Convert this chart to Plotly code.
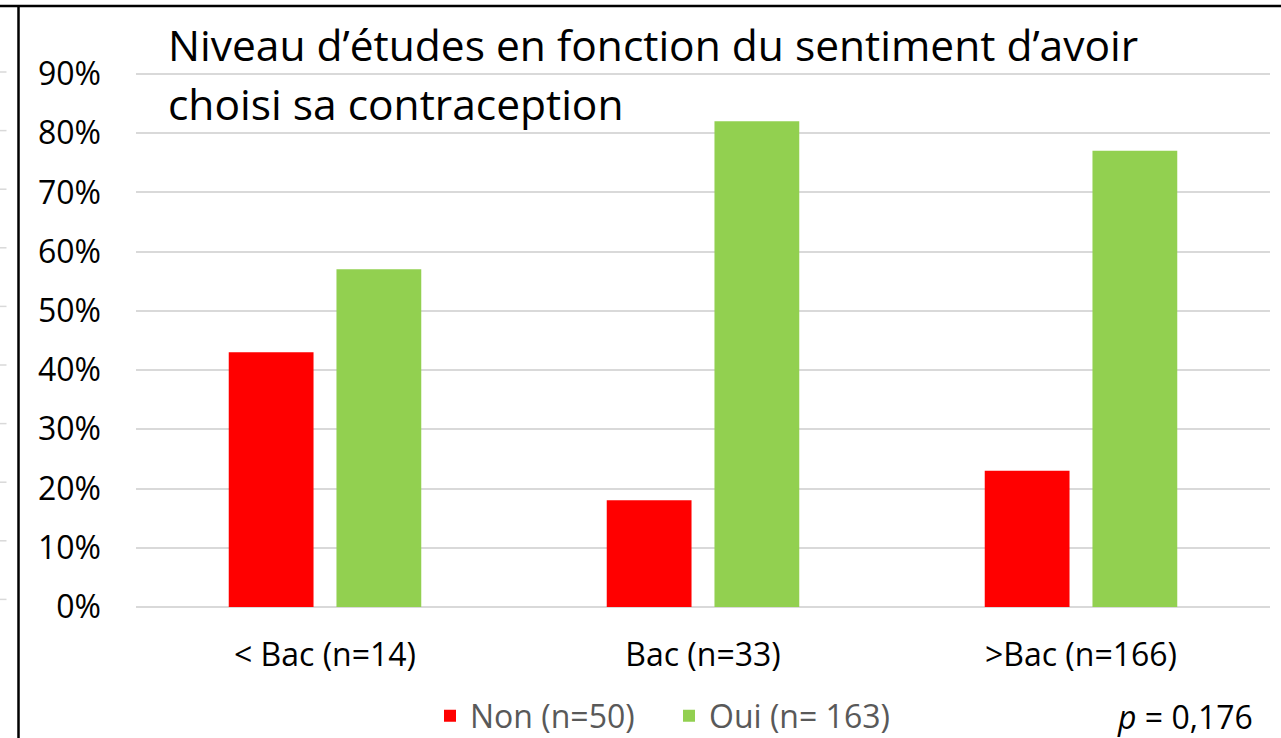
import plotly.graph_objects as go

categories = ["< Bac (n=14)", "Bac (n=33)", ">Bac (n=166)"]
non_values = [0.43, 0.18, 0.23]
oui_values = [0.57, 0.82, 0.77]
series_names = ["Non (n=50)", "Oui (n= 163)"]
y_ticks = [0.0, 0.1, 0.2, 0.3, 0.4, 0.5, 0.6, 0.7, 0.8, 0.9]
title_lines = ["Niveau d’études en fonction du sentiment d’avoir", "choisi sa contraception"]
p_text = "<i>p</i> = 0,176"

FONT = "Open Sans"
W, H = 1281, 738
L, R, T, B = 136, 11, 62, 131
PW = W - L - R
PH = H - T - B


def px(x):
    return (x - L) / PW


def py(y):
    return (H - B - y) / PH


fig = go.Figure()
fig.add_trace(go.Bar(x=categories, y=non_values, name=series_names[0],
                     marker=dict(color="#FF0000", line=dict(width=0))))
fig.add_trace(go.Bar(x=categories, y=oui_values, name=series_names[1],
                     marker=dict(color="#92D050", line=dict(width=0))))

shapes = []
# frame lines (top and left border of the screenshot)
shapes.append(dict(type="line", xref="paper", yref="paper", x0=px(0), x1=px(W), y0=py(6), y1=py(6),
                   line=dict(color="#000000", width=2.5)))
shapes.append(dict(type="line", xref="paper", yref="paper", x0=px(18.5), x1=px(18.5), y0=py(6), y1=py(H + 5),
                   line=dict(color="#000000", width=2.5)))
# gridline fragments of neighbouring chart at far left
for k in range(10):
    yy = 72 + 58.6 * k
    shapes.append(dict(type="line", xref="paper", yref="paper", x0=px(-2), x1=px(6.5), y0=py(yy), y1=py(yy),
                       line=dict(color="#d9d9d9", width=1.5)))

annotations = [
    dict(text=title_lines[0], xref="paper", yref="paper", x=px(166), y=py(44), xanchor="left", yanchor="middle",
         showarrow=False, font=dict(family=FONT, size=42.5, color="#000000")),
    dict(text=title_lines[1], xref="paper", yref="paper", x=px(166), y=py(103.5), xanchor="left", yanchor="middle",
         showarrow=False, font=dict(family=FONT, size=42.5, color="#000000")),
    dict(text=p_text, xref="paper", yref="paper", x=px(1255), y=py(716), xanchor="right", yanchor="middle",
         showarrow=False, font=dict(family=FONT, size=32, color="#000000")),
]

fig.update_layout(
    width=W, height=H,
    margin=dict(l=L, r=R, t=T, b=B, pad=0),
    paper_bgcolor="white", plot_bgcolor="white",
    font=dict(family=FONT, size=32, color="#000000"),
    barmode="group", bargap=0.43, bargroupgap=0.213,
    showlegend=True,
    legend=dict(orientation="h", x=px(430), xanchor="left",
                yref="container", y=(H - 716) / H, yanchor="middle",
                entrywidth=194, entrywidthmode="pixels",
                font=dict(family=FONT, size=32, color="#595959"), bgcolor="rgba(0,0,0,0)"),
    shapes=shapes,
    annotations=annotations,
    xaxis=dict(showgrid=False, showline=False, zeroline=False, ticks="",
               tickfont=dict(family=FONT, size=32, color="#000000"), ticklabelstandoff=26),
    yaxis=dict(range=[0, 0.92], tickvals=y_ticks, tickformat=".0%", showgrid=True,
               gridcolor="#d9d9d9", gridwidth=1.5, zeroline=True, zerolinecolor="#d9d9d9", zerolinewidth=1.5,
               showline=False, ticks="", ticklabelstandoff=34,
               tickfont=dict(family=FONT, size=32, color="#000000")),
)

fig.write_html("out.html", config={"displayModeBar": False},
               post_script="document.body.style.margin='0';document.body.style.overflow='hidden';")
